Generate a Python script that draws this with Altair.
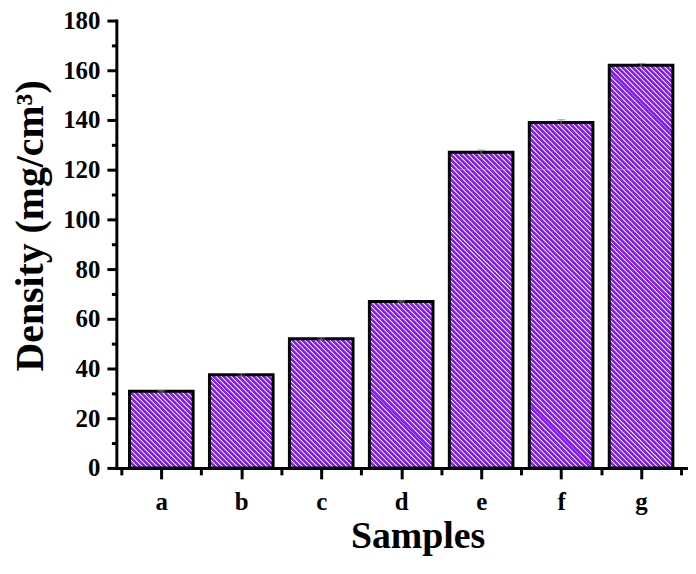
import math
import altair as alt
import pandas as pd

# ---- data ----
samples = ["a", "b", "c", "d", "e", "f", "g"]
density = [30.8, 37.5, 52.0, 67.0, 127.0, 139.0, 162.0]
errors = [0.3, 0.5, 0.4, 0.3, 0.9, 1.1, 0.7]
y_ticks = list(range(0, 181, 10))

df = pd.DataFrame({
    "sample": samples,
    "idx": list(range(1, len(samples) + 1)),
    "density": density,
    "err": errors,
})
df["lo"] = df["density"] - df["err"]
df["hi"] = df["density"] + df["err"]

# ---- style ----
W, H = 573, 450
YMAX = 180
PX = H / YMAX            # px per data unit
BAR_W = 64
PERIOD = 5.0             # hatch period (px, horizontal)
L = 256.0                # gradient length (px) used for every hatch slice
SEG = 60                 # hatch fill drawn in stacked slices of 60 units (150 px)
DARK, LIGHT, WHITE = "#8A1CF2", "#B06CFC", "#FFFFFF"
PATTERN = [(0.0, 0.6, DARK), (0.6, 0.8, LIGHT), (0.8, 1.0, WHITE)]
FONT = "Liberation Serif"


def hatch(h):
    """diagonal white-line hatching as a striped linear gradient (bbox units), slice height h px"""
    w = BAR_W
    c = L / (w * w + h * h)
    stops = []
    n = int(round(L / PERIOD))
    for j in range(n):
        for a, b, col in PATTERN:
            o1 = (j + a) * PERIOD / L
            o2 = min((j + b) * PERIOD / L, 1.0)
            stops.append(alt.GradientStop(offset=round(o1, 6), color=col))
            stops.append(alt.GradientStop(offset=round(o2, 6), color=col))
    return alt.LinearGradient(gradient="linear", stops=stops,
                              x1=0, y1=1, x2=c * w, y2=1 - c * h)


# slices of each bar (derived from the values above) for the hatch fill
rows = []
for i, (s, v) in enumerate(zip(samples, density)):
    k = int(v // SEG)
    for j in range(k):
        rows.append({"sample": s, "idx": i + 1, "s0": j * SEG, "s1": (j + 1) * SEG, "full": True})
    if v - k * SEG > 1e-9:
        rows.append({"sample": s, "idx": i + 1, "s0": k * SEG, "s1": v, "full": False})
seg_df = pd.DataFrame(rows)

x_vals = [i / 2 for i in range(1, 2 * len(samples) + 2)]
lab_arr = "[" + ",".join("'" + s + "'" for s in samples) + "]"

x_axis = alt.Axis(
    values=x_vals,
    labelExpr="datum.value % 1 === 0 ? " + lab_arr + "[datum.value - 1] : ''",
    tickSize={"condition": {"test": "datum.value % 1 === 0", "value": 11}, "value": 7},
    tickWidth=3, tickColor="black", domainWidth=3, domainColor="black", domainCap="square",
    labelFont=FONT, labelFontSize=25, labelFontWeight="bold", labelColor="black",
    labelPadding=11, labelOverlap=False, labelFlush=False,
    title="Samples", titleFont=FONT, titleFontSize=38, titleFontWeight="bold",
    titleColor="black", titleX=303, titleY=80, titleAlign="center",
    titleBaseline="alphabetic", grid=False, zindex=1,
)
y_axis = alt.Axis(
    values=y_ticks,
    labelExpr="datum.value % 20 === 0 ? datum.label : ''",
    tickSize={"condition": {"test": "datum.value % 20 === 0", "value": 9.5}, "value": 5},
    tickWidth=3, tickColor="black", domainWidth=3, domainColor="black", domainCap="square",
    labelFont=FONT, labelFontSize=25, labelFontWeight="bold", labelColor="black",
    labelPadding=7, labelOverlap=False, labelFlush=False,
    title="Density (mg/cm³)", titleFont=FONT, titleFontSize=40, titleFontWeight="bold",
    titleColor="black", titleX=-74.5, titleY=206, titleAlign="center",
    titleBaseline="alphabetic", titleAngle=270, grid=False, zindex=1,
)

xs = alt.Scale(domain=[0.5, len(samples) + 0.5], nice=False, zero=False)
ys = alt.Scale(domain=[0, YMAX], nice=False)


def X():
    return alt.X("idx:Q", scale=xs, axis=x_axis)


def Y(field):
    return alt.Y(field + ":Q", scale=ys, axis=y_axis)


base = alt.Chart(df)
seg = alt.Chart(seg_df)
layers = [
    seg.transform_filter("datum.full")
    .mark_bar(size=BAR_W, fill=hatch(SEG * PX), strokeWidth=0, orient="vertical")
    .encode(x=X(), y=Y("s0"), y2="s1:Q")
]
for s, v in zip(samples, density):
    rem = v - int(v // SEG) * SEG
    if rem > 1e-9:
        layers.append(
            seg.transform_filter("!datum.full && datum.sample == '" + s + "'")
            .mark_bar(size=BAR_W, fill=hatch(rem * PX), strokeWidth=0, orient="vertical")
            .encode(x=X(), y=Y("s0"), y2="s1:Q")
        )

outline = base.mark_bar(size=BAR_W, fill="transparent", stroke="black", strokeWidth=3,
                        orient="vertical").encode(x=X(), y=Y("density"))

err_rule = base.mark_rule(color="#808080", strokeWidth=1).encode(
    x=X(), y=Y("lo"), y2="hi:Q")
cap_lo = base.mark_tick(orient="horizontal", size=8, thickness=1, color="#808080").encode(
    x=X(), y=Y("lo"))
cap_hi = base.mark_tick(orient="horizontal", size=8, thickness=1, color="#808080").encode(
    x=X(), y=Y("hi"))

chart = alt.layer(*layers, outline, err_rule, cap_lo, cap_hi).properties(
    width=W, height=H,
    autosize=alt.AutoSizeParams(type="none"),
    padding={"left": 109, "top": 11, "right": 2, "bottom": 89},
    background="white",
).configure_view(stroke=None)

chart.save("out.html", embed_options={"renderer": "svg", "actions": False})
